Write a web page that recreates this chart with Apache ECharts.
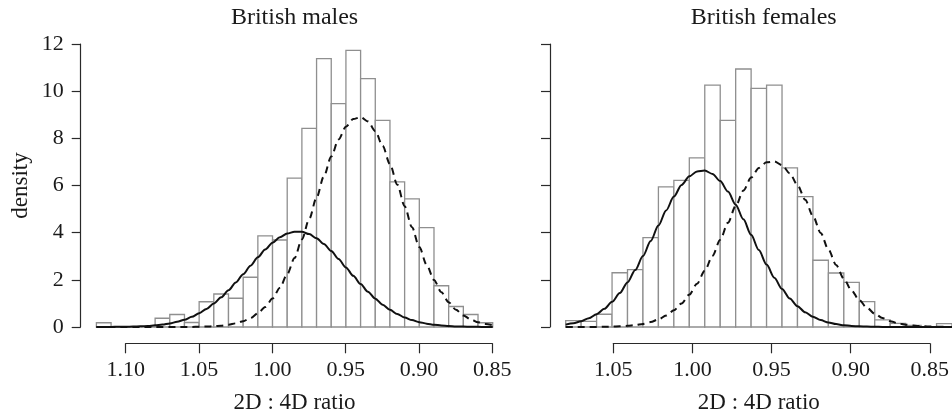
<!DOCTYPE html>
<html>
<head>
<meta charset="utf-8">
<script src="https://cdn.jsdelivr.net/npm/echarts@6/dist/echarts.min.js"></script>
<style>
html,body{margin:0;padding:0;background:#fff;}
#chart{width:952px;height:419px;}
</style>
</head>
<body>
<div id="chart"></div>
<script>
// ---- Data ----
const panelTitles = ['British males', 'British females'];
const xAxisTitle = '2D : 4D ratio';
const yAxisTitle = 'density';

// histogram bin edges (left to right, descending ratio) and densities
const maleBinEdges = [1.12,1.11,1.10,1.09,1.08,1.07,1.06,1.05,1.04,1.03,1.02,1.01,1.00,0.99,0.98,0.97,0.96,0.95,0.94,0.93,0.92,0.91,0.90,0.89,0.88,0.87,0.86,0.85];
const maleDensity = [0.18,0,0,0,0.37,0.53,0.19,1.07,1.40,1.22,2.11,3.86,3.69,6.31,8.42,11.38,9.47,11.73,10.53,8.76,6.15,5.43,4.21,1.75,0.87,0.53,0.18];

const femaleBinEdges = [1.08,1.07,1.06,1.05,1.04,1.03,1.02,1.01,1.00,0.99,0.98,0.97,0.96,0.95,0.94,0.93,0.92,0.91,0.90,0.89,0.88,0.87,0.86,0.85,0.84,0.83];
const femaleDensity = [0.27,0.24,0.54,2.30,2.43,3.79,5.94,6.22,7.17,10.26,8.76,10.94,10.12,10.26,6.75,5.53,2.83,2.29,1.89,1.08,0.30,0.15,0.07,0,0.14];

// fitted component curves
const maleCurveX = [1.120,1.115,1.110,1.105,1.100,1.095,1.090,1.085,1.080,1.075,1.070,1.065,1.060,1.055,1.050,1.045,1.040,1.035,1.030,1.025,1.020,1.015,1.010,1.005,1.000,0.995,0.990,0.985,0.980,0.975,0.970,0.965,0.960,0.955,0.950,0.945,0.940,0.935,0.930,0.925,0.920,0.915,0.910,0.905,0.900,0.895,0.890,0.885,0.880,0.875,0.870,0.865,0.860,0.855,0.850];
const maleSolid = [0.001,0.002,0.004,0.007,0.011,0.018,0.029,0.045,0.069,0.104,0.153,0.221,0.311,0.430,0.581,0.768,0.994,1.258,1.558,1.889,2.240,2.601,2.955,3.285,3.574,3.805,3.965,4.043,4.034,3.940,3.764,3.521,3.222,2.884,2.528,2.168,1.820,1.494,1.202,0.945,0.727,0.548,0.404,0.292,0.206,0.142,0.096,0.064,0.041,0.026,0.016,0.010,0.006,0.003,0.002];
const maleDashed = [0,0,0,0,0,0,0,0,0,0.000,0.001,0.001,0.003,0.005,0.010,0.018,0.032,0.056,0.094,0.155,0.247,0.383,0.578,0.846,1.204,1.665,2.239,2.925,3.714,4.580,5.489,6.392,7.233,7.950,8.495,8.819,8.895,8.718,8.303,7.683,6.908,6.037,5.125,4.227,3.388,2.639,1.997,1.469,1.049,0.728,0.491,0.322,0.205,0.127,0.076];

const femaleCurveX = [1.080,1.075,1.070,1.065,1.060,1.055,1.050,1.045,1.040,1.035,1.030,1.025,1.020,1.015,1.010,1.005,1.000,0.995,0.990,0.985,0.980,0.975,0.970,0.965,0.960,0.955,0.950,0.945,0.940,0.935,0.930,0.925,0.920,0.915,0.910,0.905,0.900,0.895,0.890,0.885,0.880,0.875,0.870,0.865,0.860,0.855,0.850,0.845,0.840,0.835,0.830];
const femaleSolid = [0.101,0.160,0.247,0.371,0.542,0.771,1.067,1.441,1.891,2.416,3.008,3.647,4.303,4.943,5.530,6.024,6.388,6.597,6.632,6.492,6.187,5.742,5.187,4.564,3.908,3.260,2.646,2.092,1.611,1.208,0.881,0.626,0.433,0.292,0.192,0.122,0.076,0.046,0.027,0.016,0.009,0.005,0.003,0.001,0.001,0,0,0,0,0,0];
const femaleDashed = [0.000,0.001,0.001,0.002,0.005,0.009,0.016,0.028,0.048,0.081,0.132,0.209,0.322,0.483,0.705,0.998,1.373,1.836,2.387,3.017,3.703,4.421,5.130,5.784,6.335,6.746,6.981,7.021,6.863,6.519,6.020,5.399,4.708,3.991,3.288,2.631,2.046,1.547,1.137,0.811,0.563,0.380,0.249,0.159,0.098,0.059,0.035,0.020,0.011,0.006,0.003];

// axis tick ranges
const maleTickRange = [0.85, 1.10];
const femaleTickRange = [0.85, 1.05];
const maleDataRange = [0.85, 1.12];
const femaleDataRange = [0.83, 1.08];
const densityRange = [0, 12];

// ---- Styling ----
const FONT = '"Liberation Serif", "Times New Roman", serif';
const INK = '#1a1a1a';
const AXIS = '#2a2a2a';
const BAR_STROKE = '#8f8f8f';

function bins(edges, dens) {
  return dens.map((d, i) => [edges[i], edges[i + 1], d]);
}
function pairs(xs, ys) { return xs.map((x, i) => [x, ys[i]]); }

function renderBin(params, api) {
  const p0 = api.coord([api.value(0), api.value(2)]);
  const p1 = api.coord([api.value(1), 0]);
  const x = Math.min(p0[0], p1[0]);
  return {
    type: 'rect',
    shape: { x: x, y: p0[1], width: Math.abs(p1[0] - p0[0]), height: p1[1] - p0[1] },
    style: { fill: '#ffffff', stroke: BAR_STROKE, lineWidth: 1.3 }
  };
}

const chart = echarts.init(document.getElementById('chart'), null, { renderer: 'canvas' });

const plotTop = 44, plotH = 288;
const leftPlot = { left: 96.4, width: 396.3 };
const rightPlot = { left: 565.7, width: 396 };

function hiddenPlotX(gridIndex, range) {
  return {
    gridIndex, type: 'value', inverse: true, min: range[0], max: range[1],
    axisLine: { show: false }, axisTick: { show: false }, axisLabel: { show: false },
    splitLine: { show: false },
    name: xAxisTitle, nameLocation: 'middle', nameGap: 64,
    nameTextStyle: { fontFamily: FONT, fontSize: 23, color: INK }
  };
}
function tickX(gridIndex, range) {
  return {
    gridIndex, type: 'value', inverse: true, min: range[0], max: range[1], interval: 0.05,
    position: 'bottom',
    axisLine: { show: true, lineStyle: { color: AXIS, width: 1.2 } },
    axisTick: { show: true, length: 10, lineStyle: { color: AXIS, width: 1.2 } },
    axisLabel: { margin: 16, fontFamily: FONT, fontSize: 22, color: INK,
      formatter: v => v.toFixed(2), showMinLabel: true, showMaxLabel: true },
    splitLine: { show: false }
  };
}
function densityY(gridIndex, showLabels) {
  return {
    gridIndex, type: 'value', min: densityRange[0], max: densityRange[1], interval: 2,
    offset: 15.7,
    axisLine: { show: true, lineStyle: { color: AXIS, width: 1.2 } },
    axisTick: { show: true, length: 9, lineStyle: { color: AXIS, width: 1.2 } },
    axisLabel: { show: showLabels, margin: 17, fontFamily: FONT, fontSize: 22, color: INK },
    splitLine: { show: false },
    name: showLabels ? yAxisTitle : '', nameLocation: 'middle', nameGap: 48,
    nameTextStyle: { fontFamily: FONT, fontSize: 23, color: INK }
  };
}
function hiddenY(gridIndex) {
  return { gridIndex, type: 'value', show: false, min: 0, max: 1 };
}

const lineBase = { type: 'line', showSymbol: false, smooth: 0.3, smoothMonotone: 'x', silent: true, z: 5 };

chart.setOption({
  animation: false,
  backgroundColor: '#ffffff',
  title: [
    { text: panelTitles[0], left: leftPlot.left + leftPlot.width / 2, top: 6, textAlign: 'center', padding: 0,
      textStyle: { fontFamily: FONT, fontSize: 24, fontWeight: 'normal', color: INK } },
    { text: panelTitles[1], left: rightPlot.left + rightPlot.width / 2, top: 6, textAlign: 'center', padding: 0,
      textStyle: { fontFamily: FONT, fontSize: 24, fontWeight: 'normal', color: INK } }
  ],
  grid: [
    { left: leftPlot.left, width: leftPlot.width, top: plotTop, height: plotH },
    { left: 125.7, width: 366.6, top: plotTop + plotH, height: 11.3 },
    { left: rightPlot.left, width: rightPlot.width, top: plotTop, height: plotH },
    { left: 613.3, width: 316.7, top: plotTop + plotH, height: 11.3 }
  ],
  xAxis: [
    hiddenPlotX(0, maleDataRange),
    tickX(1, maleTickRange),
    hiddenPlotX(2, femaleDataRange),
    tickX(3, femaleTickRange)
  ],
  yAxis: [
    densityY(0, true),
    hiddenY(1),
    densityY(2, false),
    hiddenY(3)
  ],
  series: [
    { type: 'custom', xAxisIndex: 0, yAxisIndex: 0, renderItem: renderBin,
      encode: { x: [0, 1], y: 2 }, data: bins(maleBinEdges, maleDensity), z: 2 },
    Object.assign({}, lineBase, { xAxisIndex: 0, yAxisIndex: 0, data: pairs(maleCurveX, maleSolid),
      lineStyle: { color: '#111', width: 2, type: 'solid' } }),
    Object.assign({}, lineBase, { xAxisIndex: 0, yAxisIndex: 0, data: pairs(maleCurveX, maleDashed),
      lineStyle: { color: '#111', width: 2, type: [7, 5] } }),
    { type: 'custom', xAxisIndex: 2, yAxisIndex: 2, renderItem: renderBin,
      encode: { x: [0, 1], y: 2 }, data: bins(femaleBinEdges, femaleDensity), z: 2 },
    Object.assign({}, lineBase, { xAxisIndex: 2, yAxisIndex: 2, data: pairs(femaleCurveX, femaleSolid),
      lineStyle: { color: '#111', width: 2, type: 'solid' } }),
    Object.assign({}, lineBase, { xAxisIndex: 2, yAxisIndex: 2, data: pairs(femaleCurveX, femaleDashed),
      lineStyle: { color: '#111', width: 2, type: [7, 5] } })
  ]
});
</script>
</body>
</html>
